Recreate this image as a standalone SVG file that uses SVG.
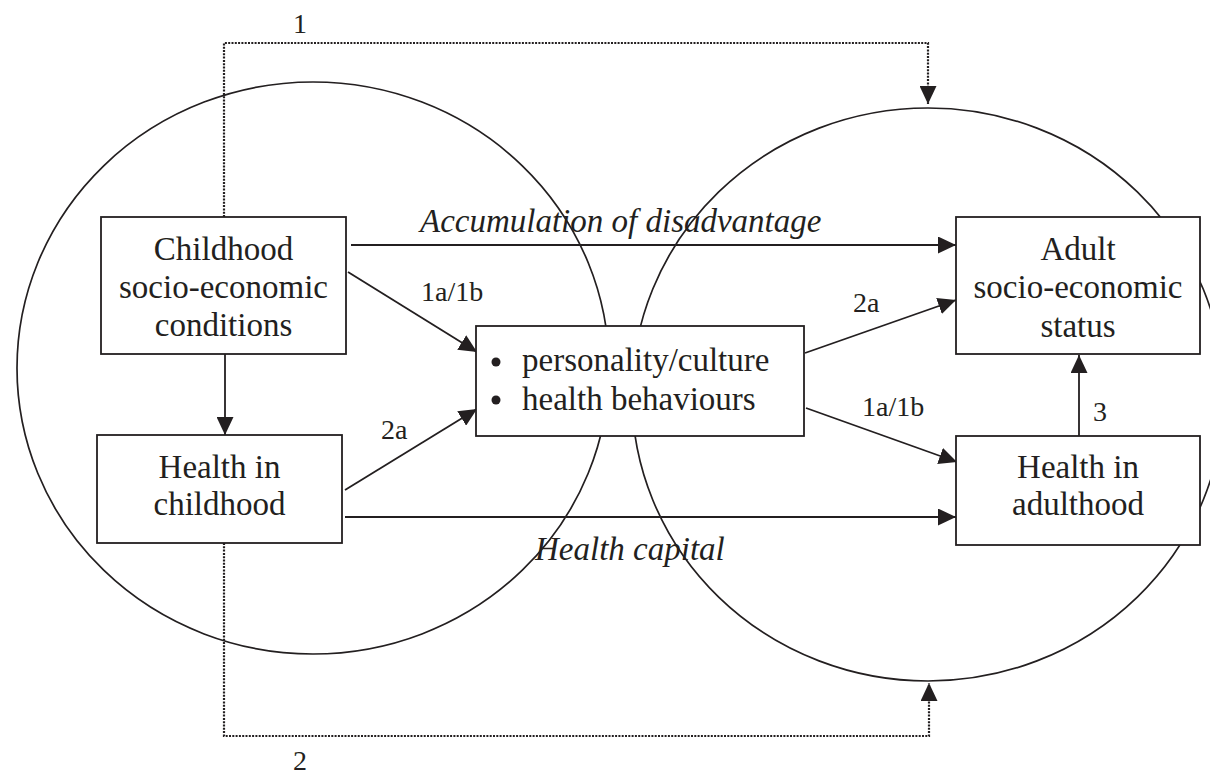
<svg xmlns="http://www.w3.org/2000/svg" width="1210" height="776" viewBox="0 0 1210 776">
<style>
  .ring { fill: none; stroke: #231f20; stroke-width: 1.7; }
  .box { fill: #ffffff; stroke: #231f20; stroke-width: 1.8; }
  .edge { fill: none; stroke: #231f20; stroke-width: 1.8; marker-end: url(#arrow); }
  .dot { fill: none; stroke: #231f20; stroke-width: 2.2; stroke-dasharray: 2 1.3; marker-end: url(#arrow); }
  text { font-family: "Liberation Serif", "Times New Roman", serif; fill: #231f20; }
  .node { font-size: 33px; text-anchor: middle; }
  .item { font-size: 33px; }
  .lbl { font-size: 28px; }
  .it { font-size: 33px; font-style: italic; }
</style>
<defs>
  <marker id="arrow" markerUnits="userSpaceOnUse" markerWidth="18" markerHeight="17" refX="18" refY="8.5" orient="auto">
    <path d="M0,0 L18,8.5 L0,17 Z" fill="#231f20" stroke="none"/>
  </marker>
</defs>
<rect x="0" y="0" width="1210" height="776" fill="#ffffff"/>

<g id="circles">
  <ellipse class="ring" cx="313" cy="368" rx="296" ry="286"/>
  <ellipse class="ring" cx="928" cy="394.5" rx="296" ry="286.5"/>
</g>

<g id="connectors">
  <path class="dot" d="M224,217 V43 H928 V104"/>
  <path class="dot" d="M224,543 V736 H929 V683"/>
  <line class="edge" x1="225" y1="354" x2="225" y2="435"/>
  <line class="edge" x1="351" y1="245" x2="956" y2="245"/>
  <line class="edge" x1="348" y1="272" x2="477" y2="352"/>
  <line class="edge" x1="345" y1="490" x2="477" y2="409"/>
  <line class="edge" x1="345" y1="517" x2="956" y2="517"/>
  <line class="edge" x1="805" y1="353" x2="956" y2="300"/>
  <line class="edge" x1="806" y1="408" x2="957" y2="462"/>
  <line class="edge" x1="1079" y1="436" x2="1079" y2="355"/>
</g>

<g id="labels">
  <text class="lbl" x="300" y="33" text-anchor="middle">1</text>
  <text class="lbl" x="300" y="770" text-anchor="middle">2</text>
  <text class="it" x="420" y="232">Accumulation of disadvantage</text>
  <text class="it" x="535" y="560">Health capital</text>
  <text class="lbl" x="421" y="301">1a/1b</text>
  <text class="lbl" x="381" y="439">2a</text>
  <text class="lbl" x="853" y="312">2a</text>
  <text class="lbl" x="862" y="416">1a/1b</text>
  <text class="lbl" x="1093" y="421">3</text>
</g>

<g id="childhood-ses">
  <rect class="box" x="101" y="217" width="245" height="137"/>
  <text class="node" x="223.5" y="260">Childhood</text>
  <text class="node" x="223.5" y="298">socio-economic</text>
  <text class="node" x="223.5" y="336">conditions</text>
</g>

<g id="health-childhood">
  <rect class="box" x="97" y="435" width="245" height="108"/>
  <text class="node" x="219.5" y="478">Health in</text>
  <text class="node" x="219.5" y="515">childhood</text>
</g>

<g id="mediators">
  <rect class="box" x="476" y="326" width="328" height="110"/>
  <circle cx="496" cy="362" r="4.5" fill="#231f20"/>
  <circle cx="496" cy="400" r="4.5" fill="#231f20"/>
  <text class="item" x="522" y="371">personality/culture</text>
  <text class="item" x="522" y="410">health behaviours</text>
</g>

<g id="adult-ses">
  <rect class="box" x="956" y="217" width="244" height="137"/>
  <text class="node" x="1078" y="260">Adult</text>
  <text class="node" x="1078" y="298">socio-economic</text>
  <text class="node" x="1078" y="337">status</text>
</g>

<g id="health-adulthood">
  <rect class="box" x="956" y="436" width="244" height="109"/>
  <text class="node" x="1078" y="478">Health in</text>
  <text class="node" x="1078" y="515">adulthood</text>
</g>
</svg>
